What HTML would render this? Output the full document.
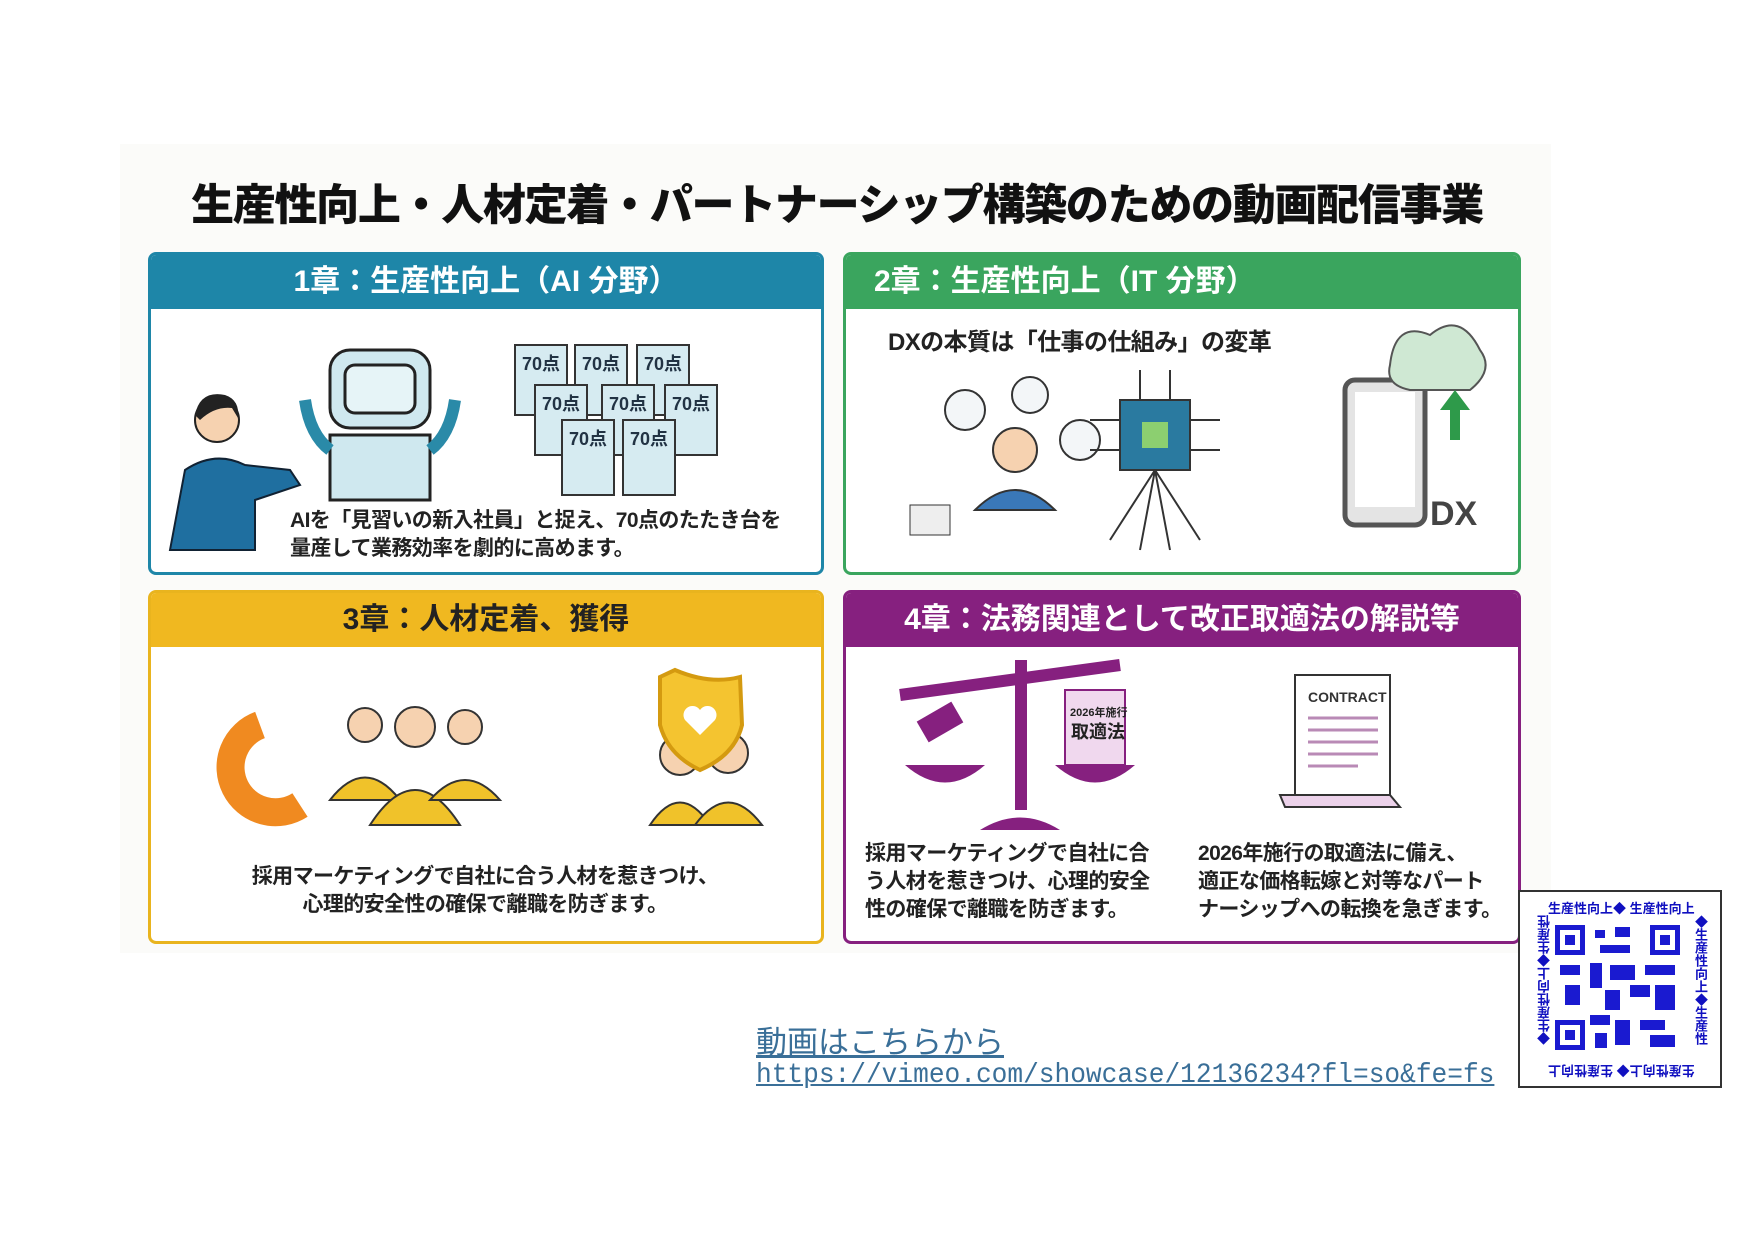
<!DOCTYPE html>
<html><head><meta charset="utf-8"><style>
body{margin:0;width:1754px;height:1241px;background:#fff;position:relative;overflow:hidden;font-family:"Liberation Sans","Noto Sans CJK JP",sans-serif}
.bg{position:absolute;left:120px;top:144px;width:1431px;height:809px;background:#fbfbf9}
.t{position:absolute;white-space:nowrap}
.title{left:0;width:1674px;text-align:center;top:171px;font-size:43px;font-weight:900;color:#111;letter-spacing:-1.3px}
.p{position:absolute;border:3px solid;border-radius:8px;background:#fff;overflow:hidden}
.h{height:54px;color:#fff;font-size:30px;font-weight:700;text-align:center;line-height:54px}
.txt{font-size:21px;font-weight:700;color:#222;line-height:28px;letter-spacing:-0.6px}
svg{position:absolute}
</style></head><body>
<div class="bg"></div>
<div class="t title">生産性向上・人材定着・パートナーシップ構築のための動画配信事業</div>

<div class="p" style="left:148px;top:252px;width:670px;height:317px;border-color:#1e86a8"><div class="h" style="background:#1e86a8">1章：生産性向上（AI 分野）</div></div>
<div class="p" style="left:843px;top:252px;width:672px;height:317px;border-color:#3aa55e"><div class="h" style="background:#3aa55e;text-align:left;padding-left:28px">2章：生産性向上（IT 分野）</div></div>
<div class="p" style="left:148px;top:590px;width:670px;height:348px;border-color:#e9b41e"><div class="h" style="background:#f0b820;color:#222">3章：人材定着、獲得</div></div>
<div class="p" style="left:843px;top:590px;width:672px;height:348px;border-color:#86207f"><div class="h" style="background:#86207f">4章：法務関連として改正取適法の解説等</div></div>

<svg style="left:160px;top:330px" width="660" height="230">
<circle cx="57" cy="90" r="22" fill="#f6d2b0" stroke="#222" stroke-width="2"/>
<path d="M35 85 Q40 60 65 65 Q80 70 78 88 L72 78 Q55 76 40 90Z" fill="#222"/>
<path d="M10 220 L25 140 Q55 120 85 135 L130 140 L140 155 L95 170 L95 220Z" fill="#1f6fa0" stroke="#123" stroke-width="2"/>
<rect x="170" y="20" width="100" height="78" rx="20" fill="#cfe8ef" stroke="#222" stroke-width="3"/>
<rect x="185" y="35" width="70" height="48" rx="10" fill="#e6f4f7" stroke="#222" stroke-width="3"/>
<path d="M170 105 h100 v65 h-100z" fill="#cfe8ef" stroke="#222" stroke-width="3"/>
<path d="M145 70 Q150 105 170 120 M295 70 Q290 105 270 120" stroke="#2a8aa8" stroke-width="12" fill="none"/>
<g fill="#d6ebf1" stroke="#333" stroke-width="2">
<rect x="355" y="15" width="52" height="70"/><rect x="415" y="15" width="52" height="70"/><rect x="477" y="15" width="52" height="70"/>
<rect x="375" y="55" width="52" height="70"/><rect x="442" y="55" width="52" height="70"/><rect x="505" y="55" width="52" height="70"/>
<rect x="402" y="90" width="52" height="75"/><rect x="463" y="90" width="52" height="75"/></g>
<g font-size="18" font-weight="700" fill="#234" font-family="Liberation Sans,Noto Sans CJK JP,sans-serif">
<text x="362" y="40">70点</text><text x="422" y="40">70点</text><text x="484" y="40">70点</text>
<text x="382" y="80">70点</text><text x="449" y="80">70点</text><text x="512" y="80">70点</text>
<text x="409" y="115">70点</text><text x="470" y="115">70点</text></g>
</svg>
<div class="t txt" style="left:290px;top:507px">AIを「見習いの新入社員」と捉え、70点のたたき台を<br>量産して業務効率を劇的に高めます。</div>

<div class="t" style="left:888px;top:322px;font-size:24px;font-weight:700;color:#222;letter-spacing:-0.6px">DXの本質は「仕事の仕組み」の変革</div>
<svg style="left:870px;top:320px" width="640" height="240">
<circle cx="95" cy="90" r="20" fill="#f3f6f8" stroke="#333" stroke-width="2"/><circle cx="160" cy="75" r="18" fill="#f3f6f8" stroke="#333" stroke-width="2"/><circle cx="210" cy="120" r="20" fill="#f3f6f8" stroke="#333" stroke-width="2"/>
<circle cx="145" cy="130" r="22" fill="#f6d2b0" stroke="#333" stroke-width="2"/>
<path d="M105 190 Q145 150 185 190Z" fill="#3a78b8" stroke="#333" stroke-width="2"/>
<rect x="40" y="185" width="40" height="30" fill="#eee" stroke="#333"/>
<rect x="250" y="80" width="70" height="70" fill="#2a7aa0" stroke="#333" stroke-width="2"/><rect x="272" y="102" width="26" height="26" fill="#8ccf70"/>
<g stroke="#333" stroke-width="2" fill="none"><path d="M285 150 L270 230 M285 150 L300 230 M285 150 L240 220 M285 150 L330 220"/><path d="M250 100 h-30 M320 100 h30 M250 130 h-30 M320 130 h30 M270 80 v-30 M300 80 v-30"/></g>
<rect x="475" y="60" width="80" height="145" rx="10" fill="#e4e4e4" stroke="#555" stroke-width="5"/><rect x="485" y="72" width="60" height="115" fill="#fff"/>
<path d="M520 45 Q525 0 560 15 Q590 -10 610 30 Q625 50 600 70 L540 70 Q515 65 520 45Z" fill="#cfe8d3" stroke="#555" stroke-width="2"/>
<path d="M580 120 v-30 h-10 l15 -20 15 20 h-10 v30z" fill="#2e9a4a"/>
<text x="560" y="205" font-size="34" font-weight="700" fill="#444" font-family="Liberation Sans,sans-serif">DX</text>
</svg>

<svg style="left:190px;top:665px" width="600" height="170">
<path d="M70 60 A45 45 0 1 0 110 140" stroke="#f08a20" stroke-width="28" fill="none"/>
<g fill="#f6d2b0" stroke="#333" stroke-width="2"><circle cx="175" cy="60" r="17"/><circle cx="225" cy="62" r="20"/><circle cx="275" cy="62" r="17"/><circle cx="490" cy="90" r="20"/><circle cx="538" cy="88" r="20"/></g>
<g fill="#f0c22a" stroke="#333" stroke-width="2"><path d="M140 135 Q175 90 210 135Z"/><path d="M180 160 Q225 90 270 160Z"/><path d="M240 135 Q275 95 310 135Z"/><path d="M460 160 Q490 115 520 160Z"/><path d="M505 160 Q538 115 572 160Z"/></g>
<path d="M485 5 Q520 20 550 12 L552 60 Q545 90 510 105 Q478 90 470 60 L470 12Z" fill="#f4c430" stroke="#d49a10" stroke-width="4"/>
<path d="M510 70 l-15 -15 a9 9 0 0 1 15 -10 a9 9 0 0 1 15 10z" fill="#fff"/>
</svg>
<div class="t txt" style="left:168px;width:634px;text-align:center;top:863px">採用マーケティングで自社に合う人材を惹きつけ、<br>心理的安全性の確保で離職を防ぎます。</div>

<svg style="left:880px;top:650px" width="560" height="180">
<path d="M20 45 L240 15" stroke="#86207f" stroke-width="12"/>
<rect x="135" y="10" width="12" height="150" fill="#86207f"/>
<path d="M100 180 Q140 155 180 180Z" fill="#86207f"/>
<path d="M25 115 Q65 150 105 115Z" fill="#86207f"/><path d="M175 115 Q215 150 255 115Z" fill="#86207f"/>
<rect x="40" y="60" width="40" height="24" fill="#86207f" transform="rotate(-30 60 72)"/>
<rect x="185" y="40" width="60" height="75" fill="#f0d8ee" stroke="#86207f" stroke-width="2"/>
<text x="190" y="66" font-size="11" font-weight="700" fill="#222" font-family="Liberation Sans,Noto Sans CJK JP,sans-serif">2026年施行</text>
<text x="191" y="88" font-size="18" font-weight="700" fill="#222" font-family="Liberation Sans,Noto Sans CJK JP,sans-serif">取適法</text>
<path d="M415 25 h95 v120 h-95z" fill="#fff" stroke="#333" stroke-width="2"/>
<path d="M400 145 h110 l10 12 h-115z" fill="#ecd2ea" stroke="#333" stroke-width="2"/>
<text x="428" y="52" font-size="14" font-weight="700" fill="#333" font-family="Liberation Sans,sans-serif">CONTRACT</text>
<g stroke="#b98ab6" stroke-width="3"><path d="M428 68h70M428 80h70M428 92h70M428 104h70M428 116h50"/></g>
</svg>
<div class="t txt" style="left:865px;top:840px">採用マーケティングで自社に合<br>う人材を惹きつけ、心理的安全<br>性の確保で離職を防ぎます。</div>
<div class="t txt" style="left:1198px;top:840px">2026年施行の取適法に備え、<br>適正な価格転嫁と対等なパート<br>ナーシップへの転換を急ぎます。</div>

<div class="t" style="left:756px;top:1017px;font-size:31px;color:#3a6f98;text-decoration:underline">動画はこちらから</div>
<div class="t" style="left:756px;top:1060px;font-family:'Liberation Mono',monospace;font-size:28px;color:#3a6f98;text-decoration:underline;transform:scaleX(0.935);transform-origin:left">https://vimeo.com/showcase/12136234?fl=so&amp;fe=fs</div>

<div style="position:absolute;left:1518px;top:890px;width:200px;height:194px;border:2px solid #333;background:#fff"></div>
<div class="t" style="left:1548px;top:898px;font-size:13px;font-weight:700;color:#1010c0">生産性向上◆ 生産性向上</div>
<div class="t" style="left:1548px;top:1062px;font-size:13px;font-weight:700;color:#1010c0;transform:rotate(180deg)">生産性向上◆ 生産性向上</div>
<div class="t" style="left:1535px;top:915px;font-size:13px;font-weight:700;color:#1010c0;writing-mode:vertical-rl;transform:rotate(180deg)">◆生産性向上◆生産性</div>
<div class="t" style="left:1691px;top:915px;font-size:13px;font-weight:700;color:#1010c0;writing-mode:vertical-rl">◆生産性向上◆生産性</div>
<svg style="left:1555px;top:925px" width="125" height="125">
<rect width="125" height="125" fill="#fff"/>
<g fill="#1a1ad0">
<rect x="0" y="0" width="30" height="30"/><rect x="95" y="0" width="30" height="30"/><rect x="0" y="95" width="30" height="30"/>
<rect x="40" y="5" width="10" height="8"/><rect x="60" y="2" width="15" height="10"/><rect x="45" y="20" width="30" height="8"/>
<rect x="5" y="40" width="20" height="10"/><rect x="35" y="38" width="12" height="25"/><rect x="55" y="40" width="25" height="15"/><rect x="90" y="40" width="30" height="10"/>
<rect x="10" y="60" width="15" height="20"/><rect x="50" y="65" width="15" height="20"/><rect x="75" y="60" width="20" height="12"/><rect x="100" y="60" width="20" height="25"/>
<rect x="35" y="90" width="20" height="10"/><rect x="60" y="95" width="15" height="25"/><rect x="85" y="95" width="25" height="10"/><rect x="95" y="110" width="25" height="12"/><rect x="40" y="108" width="12" height="15"/>
</g>
<g fill="#fff"><rect x="5" y="5" width="20" height="20"/><rect x="100" y="5" width="20" height="20"/><rect x="5" y="100" width="20" height="20"/></g>
<g fill="#1a1ad0"><rect x="10" y="10" width="10" height="10"/><rect x="105" y="10" width="10" height="10"/><rect x="10" y="105" width="10" height="10"/></g>
</svg>
</body></html>
